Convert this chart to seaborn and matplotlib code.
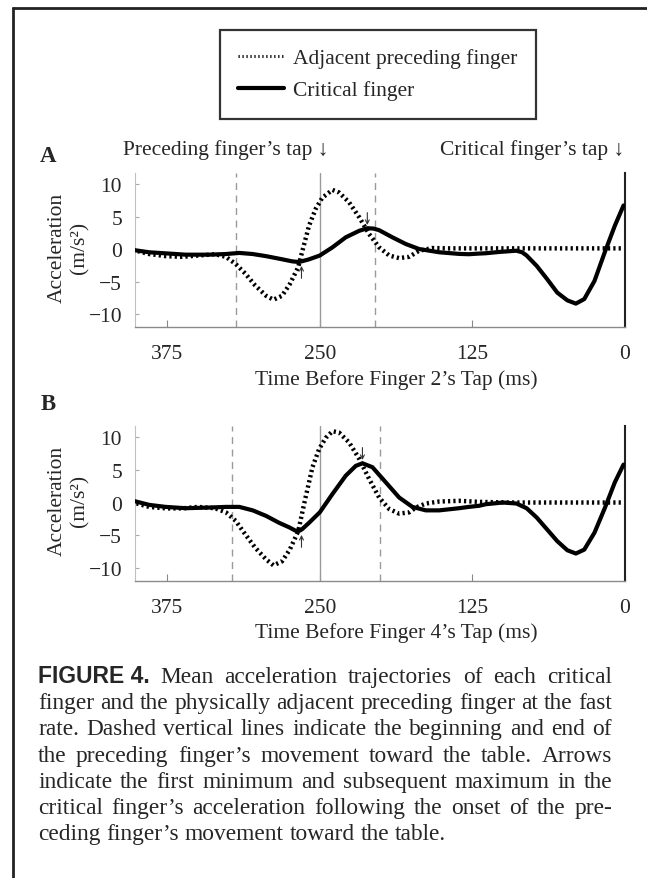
import numpy as np
import pandas as pd
import matplotlib
matplotlib.use("Agg")
import matplotlib.pyplot as plt
import matplotlib.transforms as mtransforms
import seaborn as sns
from matplotlib.lines import Line2D

# ---------------- data ----------------
time_a_crit = [403, 390, 376, 360, 341, 327, 316, 305, 294, 283, 272.5, 267, 259, 250, 239.6,
               228.7, 217.7, 211, 206, 201.3, 190.4, 179.4, 168.5, 152, 135.7, 127.8, 119.3,
               113.8, 102.8, 88.7, 84, 80.3, 72, 63.6, 55.2, 46.9, 39.9, 33, 24.6, 16.2, 7.9, 0.8]
accel_a_crit = [-0.15, -0.5, -0.67, -0.87, -0.87, -0.77, -0.6, -0.77, -1.1, -1.5, -1.9, -2.0, -1.6,
                -1.0, 0.26, 1.8, 2.8, 3.2, 3.15, 2.9, 1.8, 0.77, 0.0, -0.5, -0.75, -0.8, -0.7,
                -0.65, -0.45, -0.26, -0.5, -1.0, -2.6, -4.6, -6.7, -7.9, -8.4, -7.7, -4.9, -0.5,
                3.6, 6.7]

time_a_prec = [403, 390, 376, 363, 349.6, 336, 327, 319, 311, 303, 294, 288, 281, 274.6, 267.7,
               264, 258.8, 253.3, 247.9, 239.6, 234.2, 226, 217.7, 209.5, 201.3, 193, 184.9,
               176.7, 168.5, 157.6, 143.8, 130, 102.8, 60, 3]
accel_a_prec = [-0.15, -0.77, -1.1, -1.2, -1.0, -0.8, -1.2, -2.3, -3.8, -5.6, -7.2, -7.8, -7.2,
                -5.4, -2.8, -0.1, 3.6, 6.2, 7.9, 9.1, 8.7, 7.2, 4.9, 2.3, 0.26, -1.0, -1.4, -1.2,
                -0.26, 0.15, 0.1, 0.1, 0.1, 0.1, 0.1]

time_b_crit = [403, 390, 376.4, 360, 341, 327, 316, 305, 294, 283.4, 275, 270, 267, 264.6, 258.8,
               250, 239.6, 228.7, 220.5, 215, 206.8, 195.9, 184.9, 174, 163, 152, 135.7, 127.8,
               119.3, 113.8, 99.9, 88.7, 80.3, 72, 63.6, 55.2, 46.9, 39.9, 33, 24.6, 16.2, 7.9, 0.8]
accel_b_crit = [0.26, -0.36, -0.67, -0.87, -0.77, -0.67, -0.67, -1.2, -2.05, -3.1, -3.8, -4.3,
                -4.35, -4.1, -3.1, -1.5, 1.3, 4.1, 5.6, 6.0, 5.4, 3.1, 0.77, -0.67, -1.2, -1.2,
                -0.87, -0.67, -0.5, -0.26, 0.0, -0.15, -0.87, -2.3, -4.1, -5.9, -7.3, -7.8, -7.2,
                -4.6, -0.87, 3.1, 5.8]

time_b_prec = [403, 390, 376, 363, 350, 336, 327, 319, 311, 303, 294, 288, 281, 274.6, 267.7, 262,
               256, 250.5, 245, 239.6, 234.2, 226, 217.7, 209.5, 201.3, 193, 184.9, 176.7, 171.2,
               163, 152, 135.7, 119.3, 94.7, 3]
accel_b_prec = [0.0, -0.67, -0.9, -0.9, -0.67, -0.87, -1.5, -2.8, -4.9, -6.9, -8.7, -9.6, -9.0,
                -7.2, -4.4, 0.5, 5.4, 8.2, 9.9, 10.9, 10.7, 9.2, 6.7, 3.6, 0.77, -1.0, -1.7, -1.5,
                -0.77, -0.15, 0.15, 0.26, 0.1, 0.0, 0.0]

onset_a, end_a = 319, 205          # dashed lines, panel A
onset_b, end_b = 322, 201          # dashed lines, panel B
prev_tap = 250                     # solid grey line
x_ticks = [375, 250, 125, 0]
y_ticks = [-10, -5, 0, 5, 10]
series_names = ["Adjacent preceding finger", "Critical finger"]
x_labels = ["Time Before Finger 2\u2019s Tap (ms)", "Time Before Finger 4\u2019s Tap (ms)"]
panel_letters = ["A", "B"]
caption_lines = [
    "Mean acceleration trajectories of each critical",
    "finger and the physically adjacent preceding finger at the fast",
    "rate. Dashed vertical lines indicate the beginning and end of",
    "the preceding finger\u2019s movement toward the table. Arrows",
    "indicate the first minimum and subsequent maximum in the",
    "critical finger\u2019s acceleration following the onset of the pre-",
    "ceding finger\u2019s movement toward the table.",
]

# ---------------- style ----------------
sns.set_theme(style="white")
SERIF = ["Liberation Serif", "DejaVu Serif"]
plt.rcParams["font.family"] = SERIF
FS = 15.5

W, H = 647, 879
fig = plt.figure(figsize=(W / 100, H / 100), dpi=100)
fig.patch.set_facecolor("white")


def fx(px):
    return px / W


def fy(py):
    return 1 - py / H


DOT = (0, (0.5, 0.7))
LW = 3.0


def make_df(tc, ac, tp, ap):
    d1 = pd.DataFrame({"time": tp, "accel": ap, "finger": series_names[0]})
    d2 = pd.DataFrame({"time": tc, "accel": ac, "finger": series_names[1]})
    return pd.concat([d1, d2], ignore_index=True)


panels = [
    dict(df=make_df(time_a_crit, accel_a_crit, time_a_prec, accel_a_prec),
         onset=onset_a, end=end_a, top=174, bottom=328, xlab_y=380),
    dict(df=make_df(time_b_crit, accel_b_crit, time_b_prec, accel_b_prec),
         onset=onset_b, end=end_b, top=427, bottom=582, xlab_y=633),
]

for i, p in enumerate(panels):
    left, right = 134.5, 624.5
    ax = fig.add_axes([fx(left), fy(p["bottom"]), (right - left) / W, (p["bottom"] - p["top"]) / H])
    df = p["df"]
    prec = df[df.finger == series_names[0]]
    crit = df[df.finger == series_names[1]]

    # reference lines
    ax.axvline(prev_tap, color="#9a9a9a", lw=1.0, zorder=1)
    for xv in (p["onset"], p["end"]):
        ax.axvline(xv, color="#9a9a9a", lw=1.0, ls=(0, (5, 4)), zorder=1)

    sns.lineplot(data=prec, x="time", y="accel", ax=ax, color="black", lw=3.2,
                 linestyle=DOT, dash_capstyle="butt", estimator=None, sort=True,
                 legend=False, zorder=3)
    sns.lineplot(data=crit, x="time", y="accel", ax=ax, color="black", lw=LW,
                 solid_capstyle="round", solid_joinstyle="round", estimator=None, sort=True,
                 legend=False, zorder=4)

    ax.set_xlim(402, 0)
    ax.set_ylim(-12, 11.7)
    ax.set_xticks(x_ticks)
    ax.set_yticks(y_ticks)
    ax.set_yticklabels(["\u221210", "\u22125", "0", "5", "10"])
    ax.tick_params(axis="x", direction="in", length=5, width=0.8, color="#888888",
                   labelsize=FS, pad=12, bottom=True)
    ax.tick_params(axis="y", direction="in", length=3, width=0.8, color="#aaaaaa",
                   labelsize=FS, pad=9, left=True)
    for lab in ax.get_xticklabels() + ax.get_yticklabels():
        lab.set_family(SERIF)
    ax.spines["top"].set_visible(False)
    ax.spines["left"].set_color("#c0c0c0")
    ax.spines["left"].set_linewidth(0.8)
    ax.spines["bottom"].set_color("#8a8a8a")
    ax.spines["bottom"].set_linewidth(1.0)
    ax.spines["right"].set_color("#222222")
    ax.spines["right"].set_linewidth(1.5)
    ax.set_facecolor("white")
    ax.grid(False)

    ax.set_xlabel("")
    ax.set_ylabel("Acceleration\n(m/s\u00b2)", fontsize=FS, family=SERIF, linespacing=1.25)
    ax.yaxis.set_label_coords(-0.092, 0.52)
    # x label centred between the 375 and 0 ticks
    tr = mtransforms.blended_transform_factory(ax.transData, fig.transFigure)
    ax.text((x_ticks[0] + x_ticks[-1]) / 2, fy(p["xlab_y"]), x_labels[i], transform=tr,
            ha="center", va="center", fontsize=FS, family=SERIF)

    # arrows at first minimum / subsequent maximum of the critical finger
    seg_min = crit[(crit.time <= p["onset"]) & (crit.time > prev_tap)]
    seg_max = crit[(crit.time >= p["end"]) & (crit.time < prev_tap)]
    tmin = seg_min.loc[seg_min.accel.idxmin()]
    tmax = seg_max.loc[seg_max.accel.idxmax()]
    ap = dict(arrowstyle="->", lw=0.8, color="#333333", mutation_scale=7, shrinkA=0, shrinkB=0)
    ax.annotate("", xy=(tmin.time - 2, tmin.accel - 0.6), xytext=(tmin.time - 2, tmin.accel - 2.5),
                arrowprops=ap, zorder=5)
    ax.annotate("", xy=(tmax.time, tmax.accel + 0.5), xytext=(tmax.time, tmax.accel + 2.4),
                arrowprops=ap, zorder=5)

# panel letters and tap labels
fig.text(fx(48), fy(157), panel_letters[0], fontsize=FS + 1, fontweight="bold", family=SERIF,
         ha="center", va="center")
fig.text(fx(48), fy(405), panel_letters[1], fontsize=FS + 1, fontweight="bold", family=SERIF,
         ha="center", va="center")
fig.text(fx(123), fy(150), "Preceding finger\u2019s tap \u2193", fontsize=FS, family=SERIF,
         ha="left", va="center")
fig.text(fx(624), fy(150), "Critical finger\u2019s tap \u2193", fontsize=FS, family=SERIF,
         ha="right", va="center")

# legend
handles = [Line2D([], [], color="black", lw=2.2, ls=(0, (0.4, 0.9)), dash_capstyle="butt"),
           Line2D([], [], color="black", lw=LW)]
leg = fig.legend(handles, series_names, loc="upper left", bbox_to_anchor=(fx(220), fy(31)),
                 frameon=True, fancybox=False, fontsize=FS, handlelength=2.1,
                 handletextpad=0.45, borderpad=0.85, labelspacing=0.55, borderaxespad=0)
leg.get_frame().set_edgecolor("black")
leg.get_frame().set_linewidth(1.6)
for t in leg.get_texts():
    t.set_family(SERIF)

# outer border (open at right/bottom as in the cropped reference)
fig.add_artist(Line2D([fx(12.5), fx(12.5)], [fy(8), 0], color="#222222", lw=2.0,
                      transform=fig.transFigure, solid_capstyle="butt"))
fig.add_artist(Line2D([fx(11.5), 1], [fy(8.5), fy(8.5)], color="#222222", lw=2.0,
                      transform=fig.transFigure, solid_capstyle="butt"))

# caption, justified; size chosen so the longest line fits the text block naturally
fig.canvas.draw()
r = fig.canvas.get_renderer()
x0, x1 = 38, 612


def natural_width(size):
    t = fig.text(0, 0, caption_lines[1], fontsize=size, family=SERIF)
    w = t.get_window_extent(r).width
    t.remove()
    return w


cap_fs = 14.0
while natural_width(cap_fs + 0.1) <= (x1 - x0):
    cap_fs += 0.1

base0, step = 683, 26.2
for li, line in enumerate(caption_lines):
    toks = []
    if li == 0:
        toks.append(fig.text(0, 0, "FIGURE 4.", fontsize=cap_fs - 0.3, fontweight="bold",
                             family=["Liberation Sans", "DejaVu Sans"], va="baseline"))
    for wd in line.split(" "):
        toks.append(fig.text(0, 0, wd, fontsize=cap_fs, family=SERIF, va="baseline"))
    widths = [t.get_window_extent(r).width for t in toks]
    if li < len(caption_lines) - 1:
        gap = (x1 - x0 - sum(widths)) / (len(toks) - 1)
    else:
        gap = 0.25 * cap_fs * 100 / 72
    x = x0
    for t, w in zip(toks, widths):
        t.set_position((fx(x), fy(base0 + li * step)))
        x += w + gap

fig.savefig("out.png", dpi=100, facecolor="white")
